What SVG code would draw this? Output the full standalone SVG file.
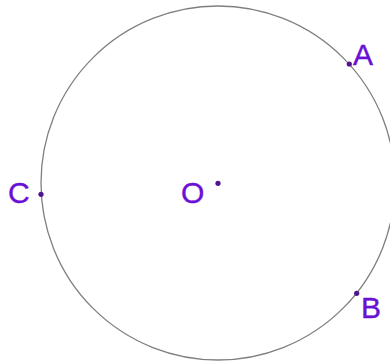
<svg xmlns="http://www.w3.org/2000/svg" width="390" height="363" viewBox="0 0 390 363">
<style>
.lbl{font-family:"Liberation Sans",Arial,sans-serif;font-size:30px;fill:#6a0fd6;stroke:#6a0fd6;stroke-width:0.4}
.pt{fill:#4f1590}
</style>
<rect width="390" height="363" fill="#ffffff"/>
<g id="circle"><circle cx="218" cy="183" r="177" fill="none" stroke="#7f7f7f" stroke-width="1.3"/></g>
<g id="connectors"></g>
<g id="O"><circle class="pt" cx="218" cy="183.3" r="2.6"/><text class="lbl" x="181" y="202.5">O</text></g>
<g id="A"><circle class="pt" cx="349.3" cy="64" r="2.6"/><text class="lbl" x="353" y="64.5">A</text></g>
<g id="B"><circle class="pt" cx="356.7" cy="293.3" r="2.6"/><text class="lbl" x="361" y="317.5">B</text></g>
<g id="C"><circle class="pt" cx="41" cy="194.3" r="2.6"/><text class="lbl" x="8" y="202.5">C</text></g>
</svg>
